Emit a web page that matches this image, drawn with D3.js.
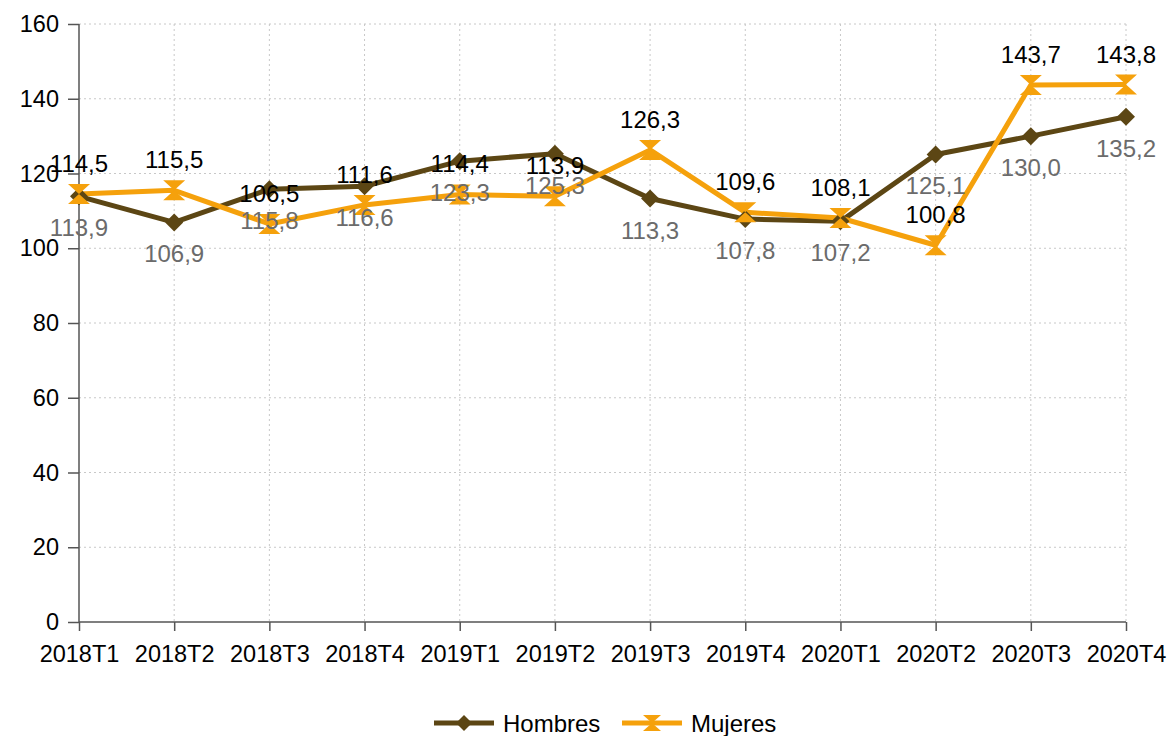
<!DOCTYPE html>
<html>
<head>
<meta charset="utf-8">
<script src="https://cdn.jsdelivr.net/npm/d3@7"></script>
<style>
  body { margin: 0; background: #fff; }
  text { font-family: "Liberation Sans", Arial, sans-serif; }
</style>
</head>
<body>
<div class="chart"></div>
<script>
var width = 1173, height = 736;
var margin = { top: 24, right: 47, bottom: 114, left: 79 };

var periods = ["2018T1", "2018T2", "2018T3", "2018T4", "2019T1", "2019T2", "2019T3", "2019T4", "2020T1", "2020T2", "2020T3", "2020T4"];
var hombres = [113.9, 106.9, 115.8, 116.6, 123.3, 125.3, 113.3, 107.8, 107.2, 125.1, 130.0, 135.2];
var mujeres = [114.5, 115.5, 106.5, 111.6, 114.4, 113.9, 126.3, 109.6, 108.1, 100.8, 143.7, 143.8];
var yTicks = [0, 20, 40, 60, 80, 100, 120, 140, 160];

var hombresColor = "#5c4614";
var mujeresColor = "#f5a10c";

var svg = d3.select(".chart").append("svg")
    .attr("width", width)
    .attr("height", height);

var xScale = d3.scalePoint().domain(periods)
    .range([margin.left, width - margin.right]).padding(0);
var yScale = d3.scaleLinear().domain([0, 160])
    .range([height - margin.bottom, margin.top]);

var fmt = function(v) { return v.toFixed(1).replace(".", ","); };

// grid
svg.append("g").selectAll("line.hg")
    .data(yTicks.filter(function(d) { return d > 0; }))
    .enter().append("line")
    .attr("x1", margin.left).attr("x2", width - margin.right)
    .attr("y1", function(d) { return yScale(d); })
    .attr("y2", function(d) { return yScale(d); })
    .attr("stroke", "#c8c8c8").attr("stroke-dasharray", "2,3");

svg.append("g").selectAll("line.vg")
    .data(periods.slice(1))
    .enter().append("line")
    .attr("x1", function(d) { return xScale(d); })
    .attr("x2", function(d) { return xScale(d); })
    .attr("y1", margin.top).attr("y2", height - margin.bottom)
    .attr("stroke", "#c8c8c8").attr("stroke-dasharray", "2,3");

// axes
var yAxis = d3.axisLeft(yScale).tickValues(yTicks).tickSize(11).tickPadding(9);
var xAxis = d3.axisBottom(xScale).tickSize(9).tickPadding(14);

var gy = svg.append("g")
    .attr("transform", "translate(" + margin.left + ",0)")
    .call(yAxis);
var gx = svg.append("g")
    .attr("transform", "translate(0," + (height - margin.bottom) + ")")
    .call(xAxis);

[gx, gy].forEach(function(g) {
    g.attr("font-size", 23.5).attr("font-family", "Liberation Sans, Arial, sans-serif");
    g.select(".domain").attr("stroke", "#555").attr("stroke-width", 1.5);
    g.selectAll(".tick line").attr("stroke", "#555").attr("stroke-width", 1.5);
    g.selectAll("text").attr("fill", "#000");
});
gy.select(".domain").attr("d", "M0," + margin.top + "V" + (height - margin.bottom));
gx.select(".domain").attr("d", "M" + margin.left + ",0H" + (width - margin.right));

var line = d3.line()
    .x(function(d, i) { return xScale(periods[i]); })
    .y(function(d) { return yScale(d); });

var diamond = function(s) {
    return "M0," + (-s) + "L" + s + ",0L0," + s + "L" + (-s) + ",0Z";
};
var hourglass = function(w, h) {
    return "M" + (-w) + "," + (-h) + "L" + w + "," + (-h) + "L" + (-w) + "," + h + "L" + w + "," + h + "Z";
};

// Hombres
svg.append("path").datum(hombres)
    .attr("d", line).attr("fill", "none")
    .attr("stroke", hombresColor).attr("stroke-width", 5)
    .attr("stroke-linejoin", "round");

// Mujeres
svg.append("path").datum(mujeres)
    .attr("d", line).attr("fill", "none")
    .attr("stroke", mujeresColor).attr("stroke-width", 5)
    .attr("stroke-linejoin", "round");

svg.append("g").selectAll("path")
    .data(hombres).enter().append("path")
    .attr("d", diamond(9))
    .attr("transform", function(d, i) { return "translate(" + xScale(periods[i]) + "," + yScale(d) + ")"; })
    .attr("fill", hombresColor);

svg.append("g").selectAll("path")
    .data(mujeres).enter().append("path")
    .attr("d", hourglass(11, 10))
    .attr("transform", function(d, i) { return "translate(" + xScale(periods[i]) + "," + yScale(d) + ")"; })
    .attr("fill", mujeresColor);

// labels
svg.append("g").selectAll("text")
    .data(hombres).enter().append("text")
    .attr("x", function(d, i) { return xScale(periods[i]); })
    .attr("y", function(d) { return yScale(d) + 40; })
    .attr("text-anchor", "middle")
    .attr("font-size", 24)
    .attr("fill", "#6b6b6b")
    .text(fmt);

svg.append("g").selectAll("text")
    .data(mujeres).enter().append("text")
    .attr("x", function(d, i) { return xScale(periods[i]); })
    .attr("y", function(d) { return yScale(d) - 22; })
    .attr("text-anchor", "middle")
    .attr("font-size", 24)
    .attr("fill", "#000")
    .text(fmt);

// legend
var legend = svg.append("g").attr("transform", "translate(0,723)");
var series = [
    { name: "Hombres", color: hombresColor, x: 434, shape: diamond(8) },
    { name: "Mujeres", color: mujeresColor, x: 622, shape: hourglass(9, 8) }
];
series.forEach(function(s) {
    legend.append("line")
        .attr("x1", s.x).attr("x2", s.x + 60)
        .attr("y1", 0).attr("y2", 0)
        .attr("stroke", s.color).attr("stroke-width", 5);
    legend.append("path")
        .attr("d", s.shape)
        .attr("transform", "translate(" + (s.x + 30) + ",0)")
        .attr("fill", s.color);
    legend.append("text")
        .attr("x", s.x + 69).attr("y", 9)
        .attr("font-size", 24)
        .attr("fill", "#000")
        .text(s.name);
});
</script>
</body>
</html>
